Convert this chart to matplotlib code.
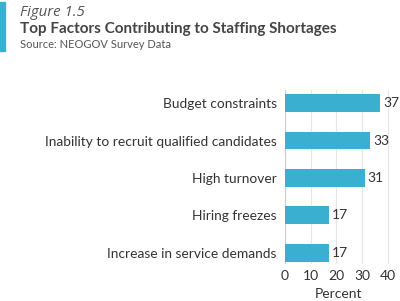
import matplotlib.pyplot as plt
from matplotlib.patches import Rectangle

plt.rcParams['font.family'] = ['Lato', 'DejaVu Sans']

categories = ['Budget constraints', 'Inability to recruit qualified candidates',
              'High turnover', 'Hiring freezes', 'Increase in service demands']
values = [37, 33, 31, 17, 17]
xticks = [0, 10, 20, 30, 40]

bar_color = '#3aafd0'
text_color = '#333333'

fig = plt.figure(figsize=(4.0, 3.01), dpi=100)
ax = fig.add_axes([0.7125, 0.123, 0.27, 0.578])

ypos = list(range(len(categories)))
ax.barh(ypos, values, height=0.48, color=bar_color, zorder=3)
for y, v in zip(ypos, values):
    ax.text(v + 1.2, y, str(v), va='center', ha='left', fontsize=10, color=text_color)

ax.set_xlim(0, 42)
ax.set_ylim(4.3, -0.35)
ax.set_yticks(ypos)
ax.set_yticklabels(categories, fontsize=9.9, color=text_color)
ax.set_xticks(xticks)
ax.set_xticklabels([str(t) for t in xticks], fontsize=10, color=text_color)
ax.tick_params(length=0, pad=6)
ax.tick_params(axis='x', pad=4)
ax.grid(axis='x', color='#e6e6e6', linewidth=0.8, zorder=0)
for s in ax.spines.values():
    s.set_visible(False)
ax.axvline(0, color='#cccccc', linewidth=0.8, zorder=2)
ax.set_xlabel('Percent', fontsize=10, color=text_color, labelpad=5)

fig.patches.append(Rectangle((0, 0.83), 0.0125, 0.165, transform=fig.transFigure,
                             color=bar_color, figure=fig))
fig.text(0.05, 0.96, 'Figure 1.5', fontsize=10.8, style='italic', color='#555555',
         va='center', family=['Open Sans', 'DejaVu Sans'])
fig.text(0.05, 0.905, 'Top Factors Contributing to Staffing Shortages', fontsize=11,
         weight='bold', color='#444444', va='center')
fig.text(0.05, 0.852, 'Source: NEOGOV Survey Data', fontsize=8, color='#555555', va='center')

fig.savefig('out.png', dpi=100)
